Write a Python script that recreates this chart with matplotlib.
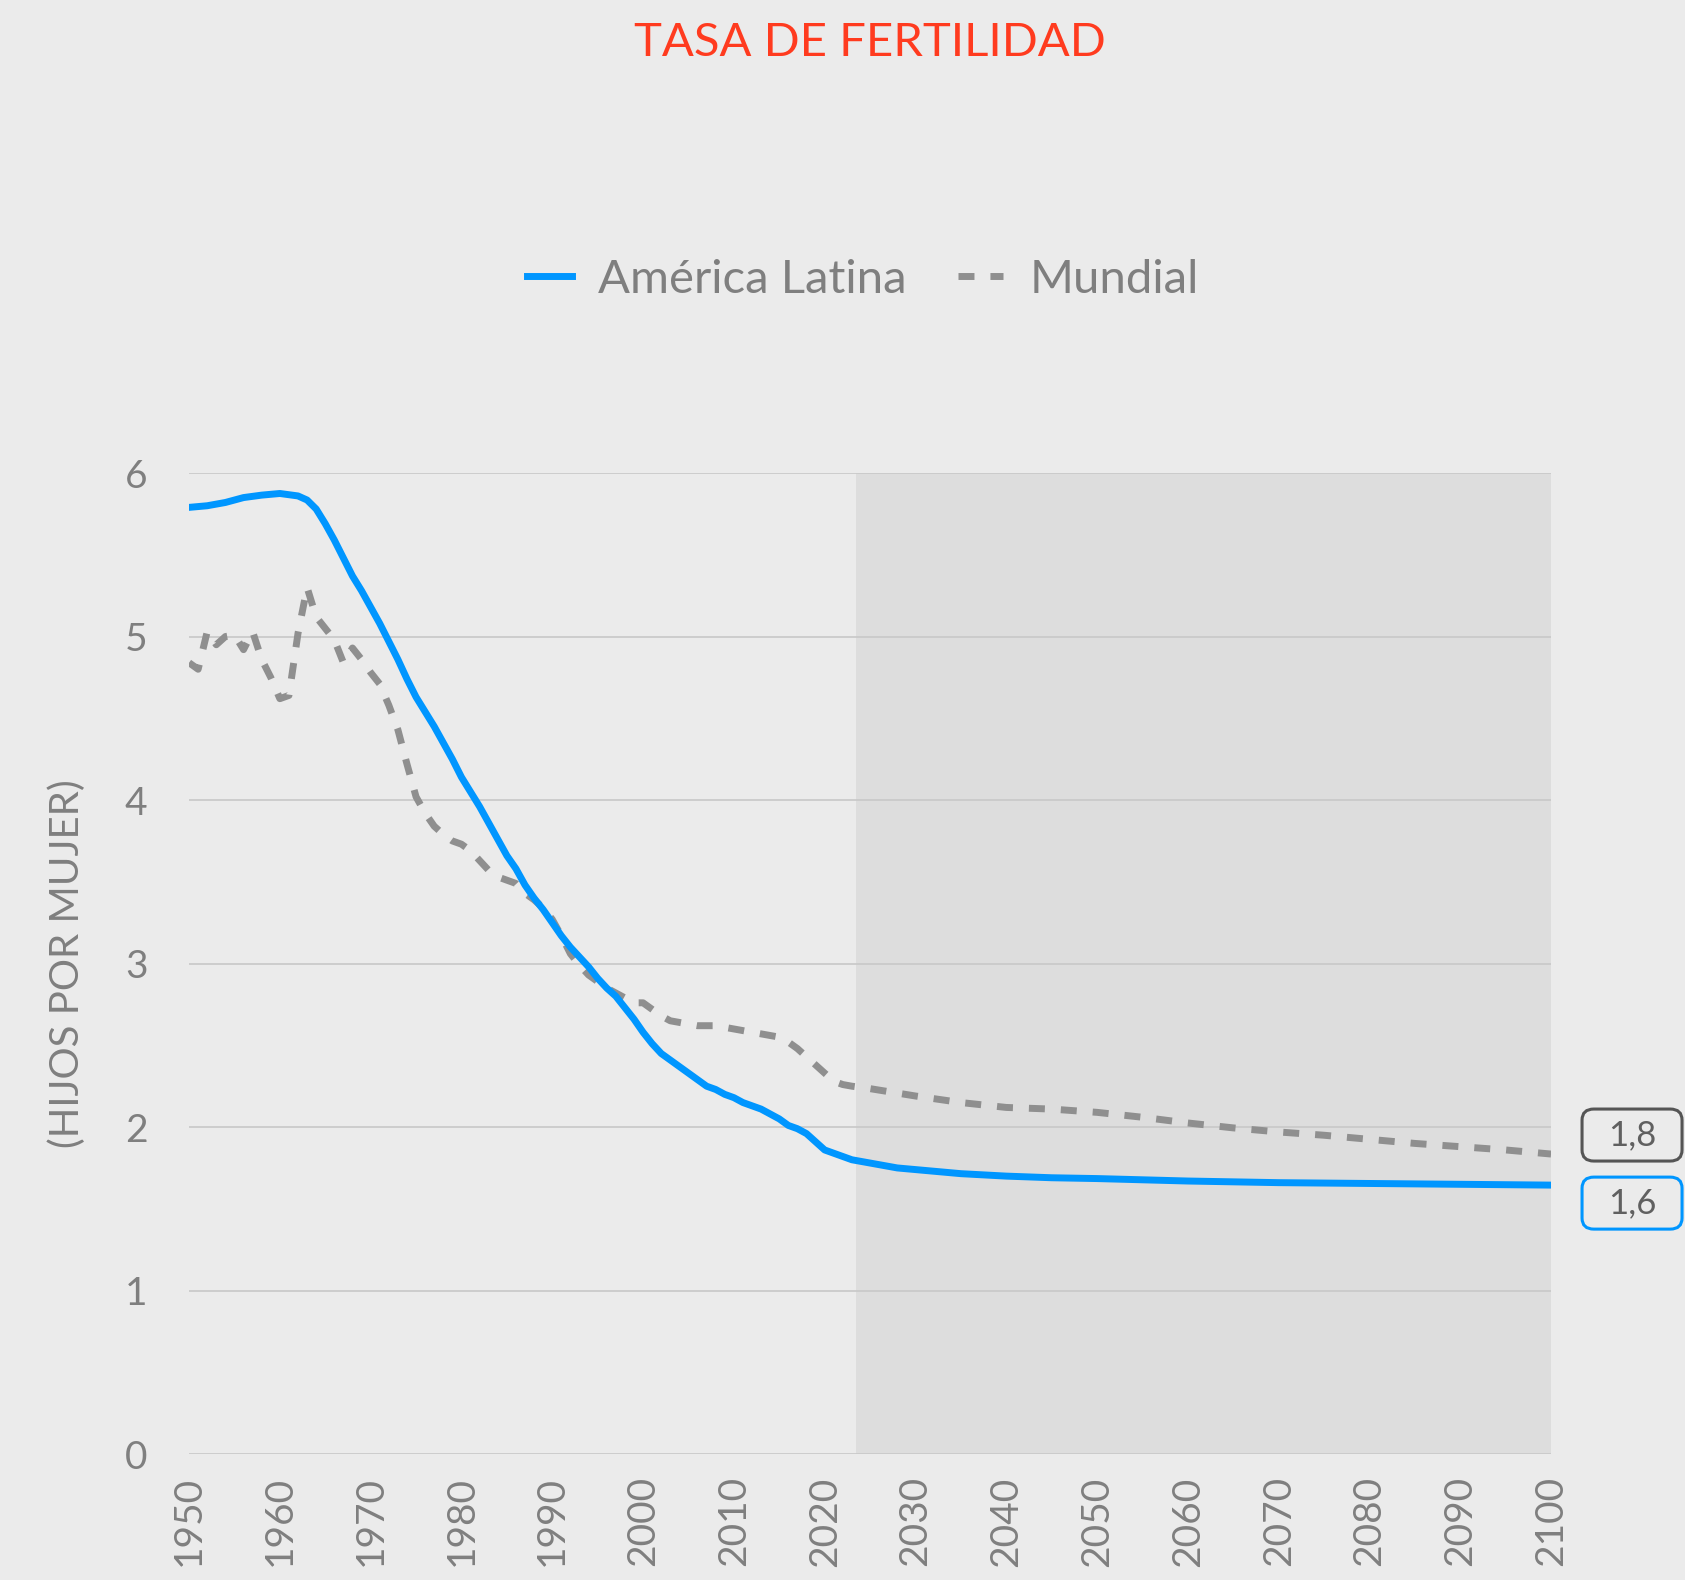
import numpy as np
import matplotlib.pyplot as plt
from matplotlib.patches import FancyBboxPatch

# datos
years_la = [1950, 1952, 1954, 1956, 1958, 1960, 1962, 1963, 1964, 1965, 1966, 1967, 1968,
            1969, 1970, 1971, 1972, 1973, 1974, 1975, 1976, 1977, 1978, 1979, 1980, 1981,
            1982, 1983, 1984, 1985, 1986, 1987, 1988, 1989, 1990, 1991, 1992, 1993, 1994,
            1995, 1996, 1997, 1998, 1999, 2000, 2001, 2002, 2003, 2004, 2005, 2006, 2007,
            2008, 2009, 2010, 2011, 2012, 2013, 2014, 2015, 2016, 2017, 2018, 2019, 2020,
            2021, 2022, 2023, 2024, 2026, 2028, 2030, 2035, 2040, 2045, 2050, 2060, 2070,
            2080, 2090, 2100]
tfr_la = [5.79, 5.80, 5.82, 5.85, 5.865, 5.875, 5.86, 5.835, 5.78, 5.69, 5.59, 5.48, 5.37,
          5.28, 5.18, 5.08, 4.97, 4.86, 4.74, 4.63, 4.54, 4.45, 4.35, 4.25, 4.14, 4.05,
          3.96, 3.86, 3.76, 3.66, 3.58, 3.48, 3.40, 3.33, 3.25, 3.17, 3.10, 3.04, 2.98,
          2.91, 2.85, 2.80, 2.73, 2.66, 2.58, 2.51, 2.45, 2.41, 2.37, 2.33, 2.29, 2.25,
          2.23, 2.20, 2.18, 2.15, 2.13, 2.11, 2.08, 2.05, 2.01, 1.99, 1.96, 1.91, 1.86,
          1.84, 1.82, 1.80, 1.79, 1.77, 1.75, 1.74, 1.715, 1.70, 1.69, 1.685, 1.67, 1.66,
          1.655, 1.65, 1.645]

years_w = list(range(1950, 2024)) + [2025, 2030, 2035, 2040, 2045, 2050, 2055, 2060, 2065,
                                     2070, 2075, 2080, 2085, 2090, 2095, 2100]
tfr_w = [4.84, 4.80, 5.03, 4.95, 5.00, 5.01, 4.92, 5.03, 4.86, 4.75,
         4.62, 4.64, 5.02, 5.30, 5.12, 5.05, 4.98, 4.84, 4.93, 4.86,
         4.78, 4.71, 4.58, 4.43, 4.22, 4.02, 3.92, 3.84, 3.79, 3.75,
         3.73, 3.69, 3.63, 3.57, 3.53, 3.51, 3.49, 3.43, 3.39, 3.34,
         3.27, 3.17, 3.06, 2.99, 2.93, 2.89, 2.85, 2.82, 2.79, 2.76,
         2.76, 2.72, 2.68, 2.65, 2.64, 2.63, 2.62, 2.62, 2.62, 2.61,
         2.60, 2.59, 2.58, 2.57, 2.56, 2.55, 2.52, 2.48, 2.43, 2.38,
         2.33, 2.28, 2.26, 2.25,
         2.235, 2.19, 2.15, 2.12, 2.11, 2.09, 2.06, 2.025, 1.995,
         1.97, 1.95, 1.925, 1.90, 1.88, 1.86, 1.835]

labels = ['América Latina', 'Mundial']
end_labels = ['1,6', '1,8']
xticks = list(range(1950, 2101, 10))
yticks = [0, 1, 2, 3, 4, 5, 6]
proj_start = 2023.5

BG = '#ebebeb'
BLUE = '#0096ff'
GRAY = '#8f8f8f'
TXT = '#7f7f7f'

plt.rcParams['font.family'] = ['Lato', 'DejaVu Sans']

fig = plt.figure(figsize=(16.85, 15.8), dpi=100, facecolor=BG)
ax = fig.add_axes([0.1122, 0.0797, 0.8083, 0.6209])
ax.set_facecolor(BG)

ax.axvspan(proj_start, 2100, color='#dddddd', zorder=0, lw=0)
for y in yticks:
    ax.axhline(y, color='#c8c8c8', lw=1.2, zorder=1)

ax.plot(years_la, tfr_la, color=BLUE, lw=5, label=labels[0], zorder=3,
        solid_joinstyle='round')
ax.plot(years_w, tfr_w, color=GRAY, lw=5, dashes=(2.3, 2.3), dash_capstyle='butt',
        label=labels[1], zorder=2)

ax.set_xlim(1950, 2100)
ax.set_ylim(0, 6)
ax.set_xticks(xticks)
ax.set_xticklabels([str(t) for t in xticks], rotation=90, fontsize=28, color=TXT)
ax.set_yticks(yticks)
ax.set_yticklabels([str(t) for t in yticks], fontsize=28, color=TXT)
ax.tick_params(length=0)
ax.tick_params(axis='y', pad=30)
ax.tick_params(axis='x', pad=16)
for s in ax.spines.values():
    s.set_visible(False)

ax.text(-0.0896, 0.5, '(HIJOS POR MUJER)', transform=ax.transAxes, rotation=90,
        ha='center', va='center', fontsize=29, color=TXT)

# etiquetas finales (cajas redondeadas a la derecha)
fig.canvas.draw()
W, H = fig.bbox.width, fig.bbox.height
for val, txt, col, dy in [(tfr_la[-1], end_labels[0], BLUE, -18),
                          (tfr_w[-1], end_labels[1], '#555555', 19)]:
    px, py = ax.transData.transform((2100, val))
    cx, cy = px + 31 + 50, py + dy
    box = FancyBboxPatch(((cx - 50) / W, (cy - 26) / H), 100 / W, 52 / H,
                         boxstyle='round,pad=0,rounding_size=0.007',
                         transform=fig.transFigure, fc='none', ec=col, lw=2.2)
    fig.add_artist(box)
    fig.text(cx / W, cy / H, txt, ha='center', va='center', fontsize=25, color='#606060')

leg = fig.legend(loc='center', bbox_to_anchor=(0.512, 0.823), ncol=2, frameon=False,
                 fontsize=34, handlelength=0.95, columnspacing=1.1, handletextpad=0.55)
for t in leg.get_texts():
    t.set_color(TXT)

fig.text(0.516, 0.973, 'TASA DE FERTILIDAD', ha='center', va='center', fontsize=34,
         color='#ff3b1f')

fig.savefig('out.png', dpi=100, facecolor=BG)
